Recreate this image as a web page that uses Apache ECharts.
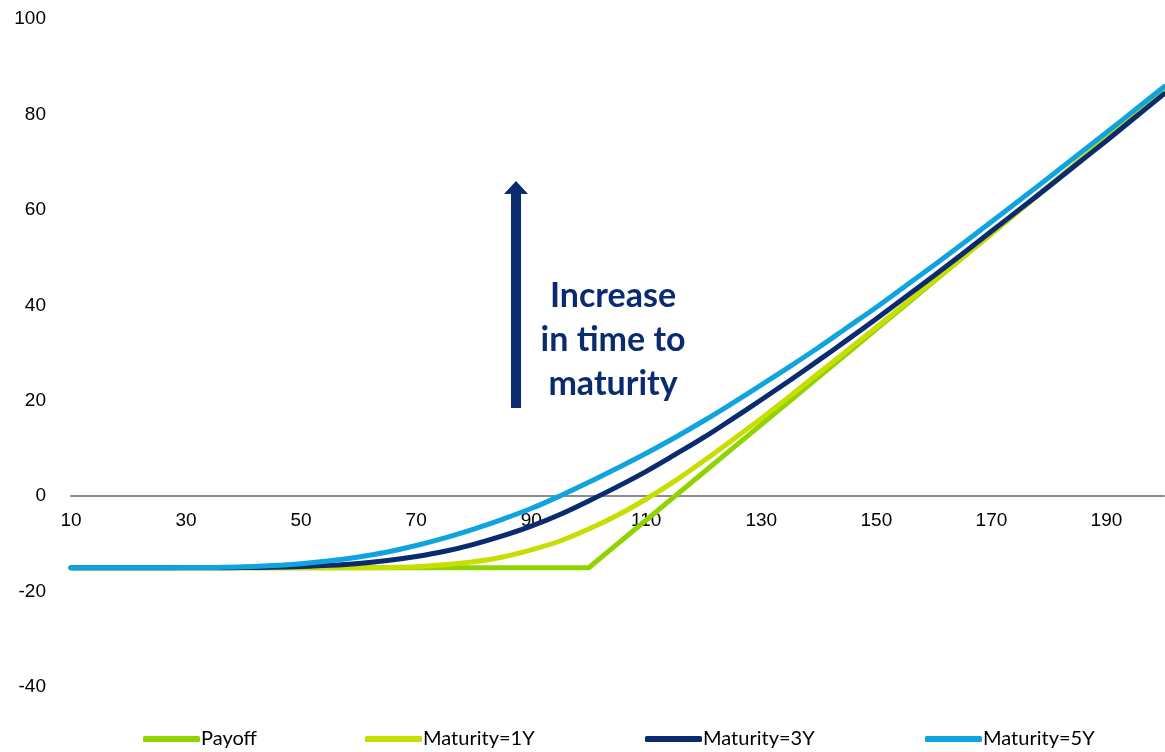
<!DOCTYPE html>
<html>
<head>
<meta charset="utf-8">
<script src="https://cdn.jsdelivr.net/npm/echarts@6/dist/echarts.min.js"></script>
<style>
  html, body { margin: 0; padding: 0; background: #fff; }
  #chart { width: 1165px; height: 752px; }
</style>
</head>
<body>
<div id="chart"></div>
<script>
// Underlying price grid (x axis), step 5 from 10 to 200
const spotLevels = ['10','15','20','25','30','35','40','45','50','55','60','65','70','75','80','85','90','95','100','105',
                    '110','115','120','125','130','135','140','145','150','155','160','165','170','175','180','185','190','195','200'];

// Net payoff at expiry (strike 100, premium 15)
const payoff     = [-15,-15,-15,-15,-15,-15,-15,-15,-15,-15,-15,-15,-15,-15,-15,-15,-15,-15,-15,-10,
                    -5,0,5,10,15,20,25,30,35,40,45,50,55,60,65,70,75,80,85];
// Option value net of premium for each time to maturity
const maturity1Y = [-15,-15,-15,-15,-15,-15,-15,-15,-15,-15,-15,-14.95,-14.8,-14.4,-13.75,-12.75,-11.25,-9.4,-6.9,-4.0,
                    -0.6,3.2,7.4,11.8,16.3,21.0,25.8,30.6,35.4,40.3,45.2,50.1,55.05,60.0,65.0,70.0,75.0,80.0,85.0];
const maturity3Y = [-15,-15,-15,-15,-15,-15,-14.97,-14.9,-14.75,-14.5,-14.1,-13.5,-12.65,-11.55,-10.1,-8.35,-6.3,-3.85,-1.0,2.0,
                    5.2,8.7,12.3,16.2,20.2,24.3,28.5,32.8,37.2,41.7,46.2,50.8,55.5,60.2,64.9,69.7,74.5,79.4,84.3];
const maturity5Y = [-15,-15,-15,-15,-14.98,-14.93,-14.8,-14.55,-14.15,-13.55,-12.75,-11.7,-10.35,-8.75,-6.9,-4.85,-2.6,0.05,2.9,5.9,
                    9.0,12.3,15.8,19.5,23.3,27.2,31.2,35.4,39.6,44.0,48.4,52.9,57.5,62.1,66.8,71.5,76.2,81.0,85.8];

// y-axis range
const yMin = -40, yMax = 100, yStep = 20;

const seriesNames = ['Payoff', 'Maturity=1Y', 'Maturity=3Y', 'Maturity=5Y'];
const seriesColors = ['#8FD300', '#C8DD00', '#0B2B70', '#10A4DE'];
const seriesData = [payoff, maturity1Y, maturity3Y, maturity5Y];
const legendLeft = [138, 360, 640, 920];

const gridTop = 19, gridBottom = 65, chartHeight = 752;
// Place the category axis on the y = 0 line of the value axis
const plotHeight = chartHeight - gridTop - gridBottom;
const zeroOffset = -plotHeight * (0 - yMin) / (yMax - yMin);

const chart = echarts.init(document.getElementById('chart'), null, { renderer: 'canvas' });

const series = seriesNames.map((name, i) => ({
  name: name,
  type: 'line',
  data: seriesData[i],
  showSymbol: false,
  symbol: 'none',
  smooth: i === 0 ? false : 0.35,
  lineStyle: { color: seriesColors[i], width: 5, cap: 'round', join: 'round' },
  itemStyle: { color: seriesColors[i] },
  z: 2 + i
}));

const legends = seriesNames.map((name, i) => ({
  data: [name],
  left: legendLeft[i],
  top: 724,
  icon: 'roundRect',
  itemWidth: 57,
  itemHeight: 6,
  itemGap: 0,
  textStyle: { fontFamily: 'Lato, sans-serif', fontSize: 20, color: '#000', padding: [0, 0, 0, -4] },
  selectedMode: false
}));

chart.setOption({
  animation: false,
  backgroundColor: '#ffffff',
  grid: { left: 71, right: 1, top: gridTop, bottom: gridBottom, containLabel: false },
  legend: legends,
  xAxis: {
    type: 'category',
    data: spotLevels,
    boundaryGap: false,
    position: 'bottom',
    offset: zeroOffset,
    axisLine: { onZero: false, lineStyle: { color: '#8C8C8C', width: 2 } },
    axisTick: { show: false },
    splitLine: { show: false },
    axisLabel: {
      interval: 3,
      margin: 15,
      color: '#000',
      fontFamily: '"Liberation Sans", Arial, sans-serif',
      fontSize: 19
    }
  },
  yAxis: {
    type: 'value',
    min: yMin,
    max: yMax,
    interval: yStep,
    axisLine: { show: false },
    axisTick: { show: false },
    splitLine: { show: false },
    axisLabel: {
      margin: 25,
      color: '#000',
      fontFamily: '"Liberation Sans", Arial, sans-serif',
      fontSize: 19
    }
  },
  series: series,
  graphic: [
    {
      type: 'polygon',
      shape: {
        points: [[511, 408], [521, 408], [521, 194], [528, 194], [516, 181], [504, 194], [511, 194]]
      },
      style: { fill: '#0B2B70' },
      z: 10
    },
    {
      type: 'text',
      x: 613,
      y: 274,
      style: {
        text: 'Increase\nin time to\nmaturity',
        align: 'center',
        verticalAlign: 'top',
        lineHeight: 44,
        fill: '#0B2B70',
        font: 'bold 34px Lato, sans-serif'
      },
      z: 10
    }
  ]
});
</script>
</body>
</html>
